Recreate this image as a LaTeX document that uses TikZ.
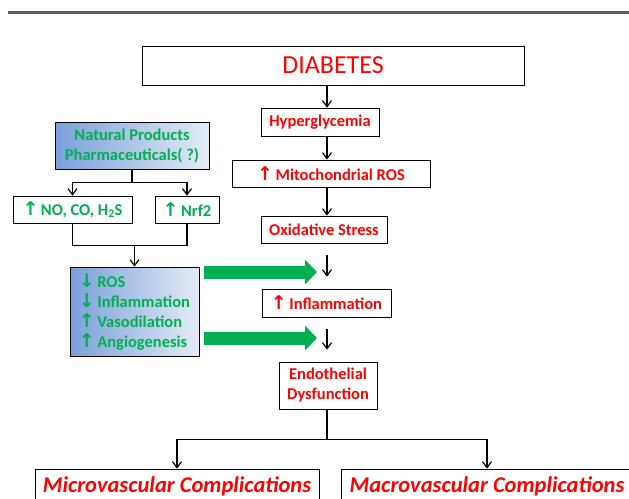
\documentclass[tikz,border=0pt]{standalone}
\usepackage{fontspec}
\setmainfont{Carlito}
\newfontfamily\arrowfont{DejaVu Sans}
\usetikzlibrary{arrows.meta}
\definecolor{diared}{RGB}{255,0,0}
\definecolor{diagreen}{RGB}{0,176,80}
\definecolor{boxblue}{RGB}{122,160,218}
\definecolor{boxpale}{RGB}{228,235,246}
\definecolor{topgray}{RGB}{96,96,96}
\newcommand{\uarr}{{\arrowfont\bfseries\scalebox{1.15}{↑}}\hspace{0.15em}}
\newcommand{\darr}{{\arrowfont\bfseries\scalebox{1.15}{↓}}\hspace{0.15em}}
\begin{document}
\begin{tikzpicture}[x=1pt, y=-1pt,
  flowbox/.style={draw, line width=0.8pt, fill=white, inner sep=0pt, align=center, font=\bfseries\fontsize{16.5}{20}\selectfont},
  redbox/.style={flowbox, text=diared},
  greenbox/.style={flowbox, text=diagreen},
  bluebox/.style={greenbox, left color=boxblue, right color=boxpale},
  bigbox/.style={flowbox, text=diared, font=\bfseries\itshape\fontsize{22.5}{26}\selectfont},
  link/.style={line width=1.2pt, -{Straight Barb[length=6pt,width=9pt]}},
  fatarrow/.style={diagreen, line width=13pt, -{Triangle[length=12pt,width=24pt]}}]
\useasboundingbox (0,0) rectangle (629,498);
\clip (0,0) rectangle (629,498);
\draw[line width=3pt, topgray] (8,12.5) -- (629,12.5);

\node[flowbox, minimum width=382pt, minimum height=39pt, text=diared, font=\fontsize{26}{30}\selectfont] (diab) at (333,65.5) {DIABETES};
\node[redbox, minimum width=118pt, minimum height=28pt] (hyper) at (320,122) {Hyperglycemia};
\node[redbox, minimum width=198pt, minimum height=27pt] (mito) at (331,173.5) {\uarr Mitochondrial ROS};
\node[redbox, minimum width=126pt, minimum height=27pt] (oxid) at (324,229.5) {Oxidative Stress};
\node[redbox, minimum width=129pt, minimum height=28pt] (infl) at (326.5,303) {\uarr Inflammation};
\node[redbox, minimum width=98pt, minimum height=47pt] (endo) at (328,385.5) {Endothelial\\Dysfunction};
\node[bigbox, minimum width=284pt, minimum height=34pt] (micro) at (177,486) {Microvascular Complications};
\node[bigbox, minimum width=292pt, minimum height=34pt] (macro) at (487,486) {Macrovascular Complications};

\node[bluebox, minimum width=154pt, minimum height=47pt] (nat) at (132,145.5) {Natural Products\\Pharmaceuticals( ?)};
\node[greenbox, minimum width=119pt, minimum height=27pt] (noco) at (72.5,209.5) {\uarr NO, CO, H\textsubscript{2}S};
\node[greenbox, minimum width=64pt, minimum height=27pt] (nrf) at (187,209.5) {\uarr Nrf2};
\node[bluebox, minimum width=129pt, minimum height=89pt, align=left] (ros) at (134.5,311.5) {\darr ROS\\\darr Inflammation\\\uarr Vasodilation\\\uarr Angiogenesis};

\coordinate (spine) at (327,0);
\draw[link] (diab.south -| spine) -- (hyper.north -| spine);
\draw[link] (hyper.south -| spine) -- (mito.north -| spine);
\draw[link] (mito.south -| spine) -- (oxid.north -| spine);
\draw[link, shorten <=12pt, shorten >=12pt] (oxid.south -| spine) -- (infl.north -| spine);
\draw[link, shorten <=12pt, shorten >=12pt] (infl.south -| spine) -- (endo.north -| spine);
\draw[line width=1.2pt] (endo.south -| spine) -- ++(0,30) coordinate (eb);
\draw[link] (eb) -| (micro.north);
\draw[link] (eb) -| (macro.north);

\draw[line width=1.2pt] (nat.south) -- ++(0,13) coordinate (nb);
\draw[link] (nb) -| (noco.north);
\draw[link] (nb) -| (nrf.north);
\draw[line width=1.2pt] (noco.south) -- ++(0,22) coordinate (jl) -| (nrf.south);
\draw[link] (jl -| ros.north) -- (ros.north);

\coordinate (g1) at (317,272);
\coordinate (g2) at (317,338);
\draw[fatarrow, shorten <=5pt] (ros.east |- g1) -- (g1);
\draw[fatarrow, shorten <=5pt] (ros.east |- g2) -- (g2);
\end{tikzpicture}
\end{document}
